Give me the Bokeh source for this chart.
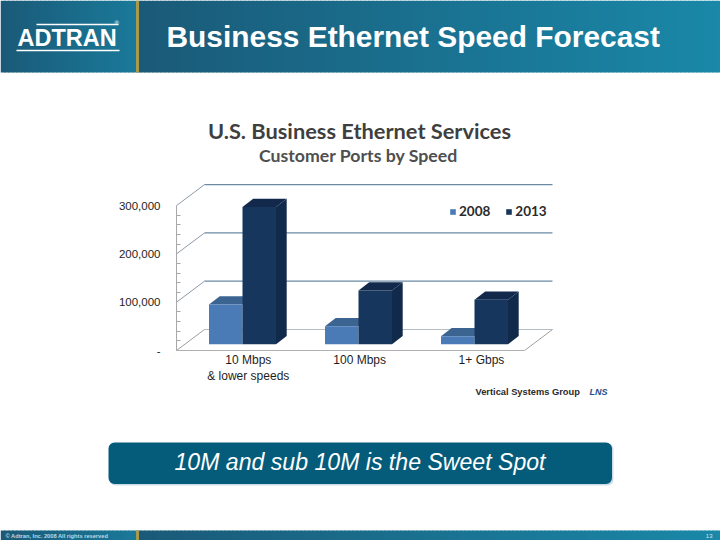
from bokeh.plotting import figure
from bokeh.embed import file_html
from bokeh.resources import INLINE
from bokeh.core.properties import value
from bokeh.models import LinearAxis, FixedTicker, NumeralTickFormatter, Range1d, Legend, LegendItem

# ---- chart data ----
categories = ["10 Mbps\n& lower speeds", "100 Mbps", "1+ Gbps"]
category_ticks = [0.05, 1.01, 2.06]
years = ["2008", "2013"]
ports_2008 = [82000, 37000, 16500]
ports_2013 = [284000, 111000, 92000]
value_ticks = [0, 100000, 200000, 300000]
minor_value_ticks = [20000, 40000, 60000, 80000, 120000, 140000, 160000, 180000,
                     220000, 240000, 260000, 280000]
title = "U.S. Business Ethernet Services"
subtitle = "Customer Ports by Speed"
slide_title = "Business Ethernet Speed Forecast"
callout = "10M and sub 10M is the Sweet Spot"
footer = "\u00a9 Adtran, Inc. 2008 All rights reserved"
source = "Vertical Systems Group"
page_number = "13"

# ---- geometry: page pixel <-> data ----
W, H = 720, 540
OFF = 0
X0, XU = 242.0, 116.0      # page x of group 0 centre, pixels per category
Y0, YU = 350.0, 48.3 / 100000.0  # page y of value 0, pixels per unit


def X(px):
    return (px - X0) / XU


def Y(py):
    return (Y0 - py) / YU


def DX(px):
    return px / XU


def DY(px):
    return px / YU


p = figure(width=W, height=H, output_backend="svg", toolbar_location=None,
           x_range=Range1d(X(OFF), X(OFF + W)), y_range=Range1d(Y(OFF + H), Y(OFF)),
           x_axis_type=None, y_axis_type=None, min_border=0,
           background_fill_color="white", border_fill_color="white")
p.outline_line_color = None
p.grid.visible = False


def gradient(x_from, x_to, y_top, y_bot, c_from, c_to, step=4):
    lefts, rights, cols = [], [], []
    x = x_from
    while x < x_to:
        t = (x - x_from) / max(1, x_to - x_from)
        c = tuple(int(round(a + (b - a) * t)) for a, b in zip(c_from, c_to))
        lefts.append(X(x))
        rights.append(X(min(x + step + 1, x_to)))
        cols.append("#%02x%02x%02x" % c)
        x += step
    p.quad(left=lefts, right=rights, top=Y(y_top), bottom=Y(y_bot), fill_color=cols, line_color=None)


# ---- slide furniture ----
DARK, LIGHT, LIGHT2 = (26, 90, 120), (26, 122, 154), (26, 136, 168)
for y_top, y_bot in ((0, 72), (530, 540)):
    gradient(0, 136, y_top, y_bot, DARK, LIGHT)
    gradient(136, 720, y_top, y_bot, DARK, LIGHT2)
    p.segment(X(137), Y(y_top), X(137), Y(y_bot), line_color="#a89a4c", line_width=3)


def label(x, y, txt, size, color="white", font="Liberation Sans", style="normal", align="left"):
    p.text([X(x)], [Y(y)], text=[txt], text_font=value(font), text_font_size=f"{size}px",
           text_font_style=style, text_color=color, text_align=align, text_baseline="middle")


label(166, 35.5, slide_title, 29.9, style="bold")

# logo
label(17, 37, "ADTRAN", 23.5, style="bold")
p.segment(X(16), Y(50), X(119), Y(50), line_color="white", line_width=1.5)
p.segment(X(36), Y(24), X(118), Y(24), line_color="white", line_width=1.5)
label(114, 22, "\u00ae", 6)

label(5, 535.5, footer, 5.7, color="#bcd9e6", style="bold")
label(712, 535.5, page_number, 6, color="#d5e6ee", align="right")

# chart titles
label(359, 129.5, title, 21.8, color="#3f3f3f", font="Lato", style="bold", align="center")
label(358, 155, subtitle, 17.7, color="#4f4f4f", font="Lato", style="bold", align="center")

# ---- 3D walls ----
WALL_X, WALL_Y = 28, 21
FRONT_R = 524
BACK_R = FRONT_R + WALL_X
GRID = "#6d8aa3"
for v in value_ticks:
    p.segment(X(176 + WALL_X), v + DY(WALL_Y), X(BACK_R), v + DY(WALL_Y),
              line_color=GRID if v else "#b4bcc4", line_width=1.2)
    p.segment(X(176), v, X(176 + WALL_X), v + DY(WALL_Y),
              line_color="#8a9aa8" if v else "#a0a0a0", line_width=1)
p.segment(X(FRONT_R), 0, X(BACK_R), DY(WALL_Y), line_color="#a0a0a0", line_width=1)

# ---- bars ----
BAR_W = 33.5 / XU
BASE = DY(6.3)
DEPTH_X, DEPTH_Y = DX(10.7), DY(8.3)
xs = [0, 1, 2]
C08, C08_TOP = "#4a7bb7", "#3c6490"
C13, C13_TOP, C13_SIDE = "#17365d", "#12294b", "#11294a"

x08 = [x - BAR_W / 2 for x in xs]
x13 = [x + BAR_W / 2 for x in xs]
top08 = [BASE + v for v in ports_2008]
top13 = [BASE + v for v in ports_2013]
bot = [BASE for _ in xs]


def top_face(cx, top):
    l, r = cx - BAR_W / 2, cx + BAR_W / 2
    return [l, r, r + DEPTH_X, l + DEPTH_X], [top, top, top + DEPTH_Y, top + DEPTH_Y]


def side_face(cx, top):
    r = cx + BAR_W / 2
    return [r, r + DEPTH_X, r + DEPTH_X, r], [BASE, BASE + DEPTH_Y, top + DEPTH_Y, top]


f08 = [top_face(c, t) for c, t in zip(x08, top08)]
p.patches([f[0] for f in f08], [f[1] for f in f08], fill_color=C08_TOP, line_color=None)
bars08 = p.vbar(x=x08, top=top08, bottom=bot, width=BAR_W, fill_color=C08, line_color=None)

f13 = [top_face(c, t) for c, t in zip(x13, top13)]
s13 = [side_face(c, t) for c, t in zip(x13, top13)]
p.patches([f[0] for f in s13], [f[1] for f in s13], fill_color=C13_SIDE, line_color=None)
p.patches([f[0] for f in f13], [f[1] for f in f13], fill_color=C13_TOP, line_color=None)
bars13 = p.vbar(x=x13, top=top13, bottom=bot, width=BAR_W, fill_color=C13, line_color=None)

# ---- axes ----
yax = LinearAxis(fixed_location=X(176),
                 ticker=FixedTicker(ticks=value_ticks, minor_ticks=minor_value_ticks),
                 formatter=NumeralTickFormatter(format="0,0"),
                 major_label_overrides={0: "-"})
yax.bounds = (0, 300000)
yax.axis_line_color = "#a8a8a8"
yax.major_tick_line_color = "#a8a8a8"
yax.minor_tick_line_color = "#a8a8a8"
yax.major_tick_in = 0
yax.major_tick_out = 0
yax.minor_tick_in = 4
yax.minor_tick_out = 0
yax.major_label_standoff = 16
yax.major_label_text_font = "Liberation Sans"
yax.major_label_text_font_size = "11.5px"
yax.major_label_text_color = "#1e1e1e"
p.add_layout(yax, "left")

xax = LinearAxis(fixed_location=0,
                 ticker=FixedTicker(ticks=category_ticks),
                 major_label_overrides=dict(zip(category_ticks, categories)))
xax.bounds = (X(176), X(FRONT_R))
xax.axis_line_color = "#b0b0b0"
xax.major_tick_line_color = None
xax.minor_tick_line_color = None
xax.major_tick_in = 0
xax.major_tick_out = 0
xax.major_label_standoff = 2
xax.major_label_text_font = "Liberation Sans"
xax.major_label_text_font_size = "12px"
xax.major_label_text_color = "#1e1e1e"
p.add_layout(xax, "below")

# ---- legend ----
legend = Legend(items=[LegendItem(label=years[0], renderers=[bars08]),
                       LegendItem(label=years[1], renderers=[bars13])],
                orientation="horizontal", location=(449, H - 219),
                background_fill_alpha=0, border_line_color=None,
                glyph_width=7, glyph_height=7, label_standoff=3, spacing=15, padding=0, margin=0,
                label_text_font="Lato", label_text_font_style="bold",
                label_text_font_size="13.5px", label_text_color="#2b2b2b")
p.add_layout(legend, "center")

# ---- source ----
label(475, 391, source, 9.3, color="#2a2a2a", style="bold")
label(589, 391, "LNS", 9, color="#1f4e8c", style="bold italic")

# ---- callout ----
p.quad(left=X(109), right=X(613), top=Y(443), bottom=Y(485), fill_color="#c9dde8", line_color=None,
       border_radius=6)
p.quad(left=X(108), right=X(611.5), top=Y(442), bottom=Y(483.5), fill_color="#055c7a", line_color=None,
       border_radius=6)
label(359.5, 461, callout, 23.1, style="italic", align="center")

open("out.html", "w").write(file_html(p, INLINE))
